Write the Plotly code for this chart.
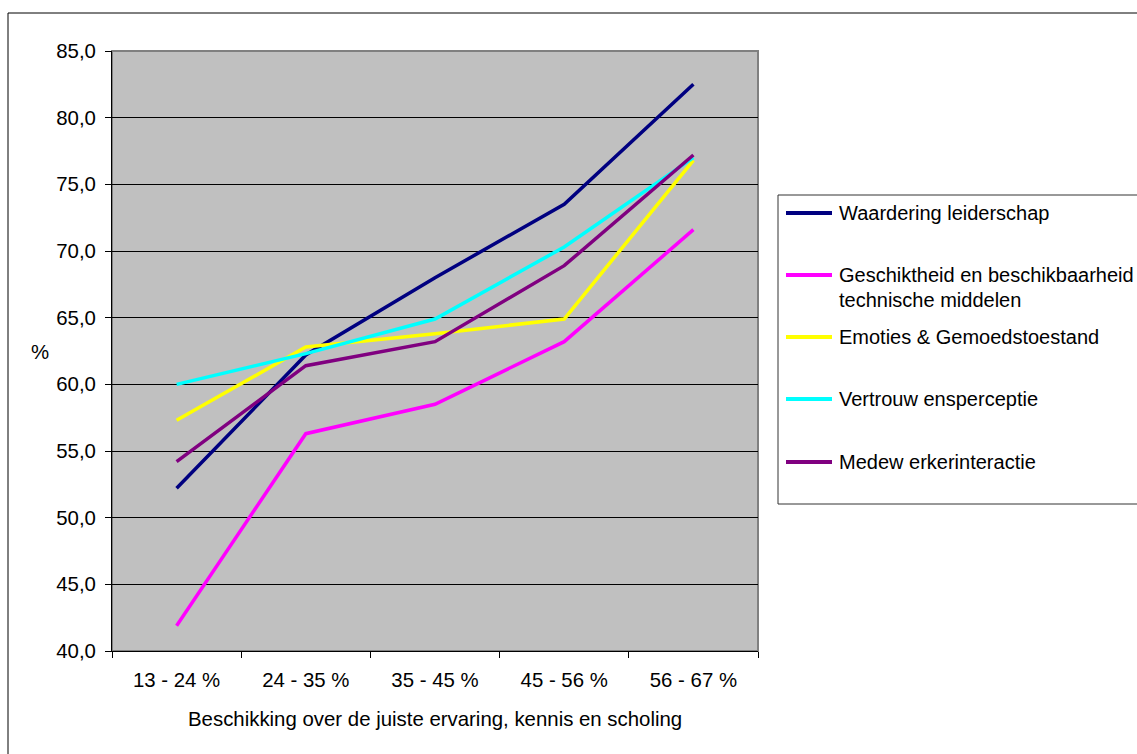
import plotly.graph_objects as go

categories = ["13 - 24 %", "24 - 35 %", "35 - 45 %", "45 - 56 %", "56 - 67 %"]
series_names = [
    "Waardering leiderschap",
    "Geschiktheid en beschikbaarheid<br>technische middelen",
    "Emoties & Gemoedstoestand",
    "Vertrouw ensperceptie",
    "Medew erkerinteractie",
]
waardering = [52.2, 62.2, 68.0, 73.5, 82.5]
geschiktheid = [41.9, 56.3, 58.5, 63.2, 71.6]
emoties = [57.3, 62.8, 63.8, 64.9, 76.8]
vertrouwen = [60.0, 62.3, 64.9, 70.3, 77.0]
medewerker = [54.2, 61.4, 63.2, 68.9, 77.2]
series_values = [waardering, geschiktheid, emoties, vertrouwen, medewerker]
colors = ["#000080", "#FF00FF", "#FFFF00", "#00FFFF", "#800080"]
y_ticks = [40, 45, 50, 55, 60, 65, 70, 75, 80, 85]
y_tick_labels = ["40,0", "45,0", "50,0", "55,0", "60,0", "65,0", "70,0", "75,0", "80,0", "85,0"]
x_title = "Beschikking over de juiste ervaring, kennis en scholing"
y_title = "%"

W, H = 1137, 754
L, R, T, B = 112, 758, 51, 651
PW, PH = R - L, B - T

def px(x):
    return (x - L) / PW

def py(y):
    return (B - y) / PH

FONT = "Liberation Sans, Arial, sans-serif"
FS = 20.4
LFS = 20

fig = go.Figure()
for name, vals, col in zip(series_names, series_values, colors):
    fig.add_trace(go.Scatter(
        x=categories, y=vals, mode="lines", name=name,
        line=dict(color=col, width=3.5), showlegend=False,
    ))

shapes = []
# outer chart border
shapes.append(dict(type="rect", xref="paper", yref="paper",
                   x0=px(8), x1=px(1145), y0=py(13), y1=py(770),
                   line=dict(color="#000000", width=1), layer="below"))
# plot area border (gray top/right)
shapes.append(dict(type="rect", xref="paper", yref="paper",
                   x0=0, x1=1, y0=0, y1=1,
                   line=dict(color="#808080", width=2), layer="below"))
# legend box
shapes.append(dict(type="rect", xref="paper", yref="paper",
                   x0=px(778), x1=px(1145), y0=py(195), y1=py(504),
                   line=dict(color="#333333", width=1)))

annotations = []
legend_rows = [213, 275, 337, 399, 462]
for name, col, yrow in zip(series_names, colors, legend_rows):
    shapes.append(dict(type="line", xref="paper", yref="paper",
                       x0=px(786), x1=px(832), y0=py(yrow), y1=py(yrow),
                       line=dict(color=col, width=4)))
    parts = name.split("<br>")
    for i, part in enumerate(parts):
        annotations.append(dict(xref="paper", yref="paper",
                                x=px(837), y=py(yrow + i * 25),
                                xanchor="left", yanchor="middle",
                                text=part, showarrow=False,
                                font=dict(family=FONT, size=LFS, color="#000000")))

annotations.append(dict(xref="paper", yref="paper", x=px(40), y=py(352),
                        xanchor="center", yanchor="middle", text=y_title,
                        showarrow=False, font=dict(family=FONT, size=FS, color="#000000")))
annotations.append(dict(xref="paper", yref="paper", x=0.5, y=py(719),
                        xanchor="center", yanchor="middle", text=x_title,
                        showarrow=False, font=dict(family=FONT, size=FS, color="#000000")))

fig.update_layout(
    width=W, height=H,
    margin=dict(l=L, r=W - R, t=T, b=H - B, pad=0),
    paper_bgcolor="#FFFFFF", plot_bgcolor="#C0C0C0",
    font=dict(family=FONT, size=FS, color="#000000"),
    showlegend=False,
    shapes=shapes, annotations=annotations,
    xaxis=dict(
        type="category", range=[-0.5, 4.5], showgrid=False,
        showline=True, linecolor="#000000", linewidth=1,
        ticks="outside", tickson="boundaries", ticklen=6, tickcolor="#000000",
        tickfont=dict(family=FONT, size=FS, color="#000000"),
        ticklabelstandoff=11, zeroline=False, fixedrange=True,
    ),
    yaxis=dict(
        range=[40, 85], tickvals=y_ticks, ticktext=y_tick_labels,
        showgrid=True, gridcolor="#000000", gridwidth=1,
        showline=True, linecolor="#000000", linewidth=1,
        ticks="outside", ticklen=6, tickcolor="#000000",
        tickfont=dict(family=FONT, size=FS, color="#000000"),
        ticklabelstandoff=5, zeroline=False, fixedrange=True,
    ),
)

fig.write_html("out.html")
